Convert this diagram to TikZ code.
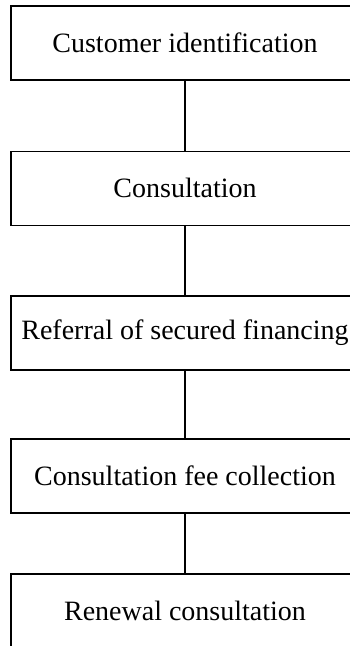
\documentclass[tikz,border=0pt]{standalone}
\usepackage{fontspec}
\setmainfont{Liberation Serif}
\begin{document}
\begin{tikzpicture}[x=1pt,y=1pt,
  stepbox/.style={draw=black, line width=1.7pt, minimum width=348pt,
    minimum height=74pt, inner sep=0pt, anchor=north,
    font=\fontsize{28}{30}\selectfont},
  link/.style={draw=black, line width=1.7pt}]
  \useasboundingbox (0,0) rectangle (350,-646);
  \clip (0,0) rectangle (350,-646);
  \node[stepbox] (s1) at (185,-5)     {Customer identification};
  \node[stepbox] (s2) at (185,-150.5) {Consultation};
  \node[stepbox] (s3) at (185,-295)   {Referral of secured financing};
  \node[stepbox] (s4) at (185,-438)   {Consultation fee collection};
  \node[stepbox] (s5) at (185,-573)   {Renewal consultation};
  \draw[link] (s1.south) -- (s2.north);
  \draw[link] (s2.south) -- (s3.north);
  \draw[link] (s3.south) -- (s4.north);
  \draw[link] (s4.south) -- (s5.north);
\end{tikzpicture}
\end{document}
